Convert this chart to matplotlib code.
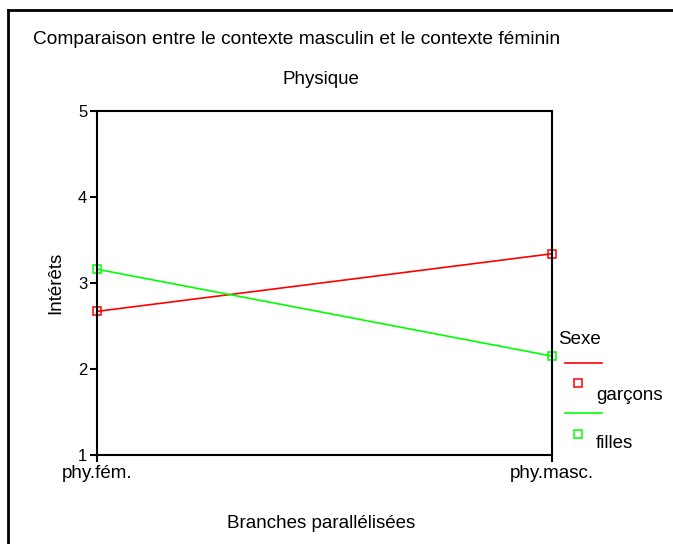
import matplotlib
matplotlib.use("Agg")
import matplotlib.pyplot as plt
from matplotlib.lines import Line2D

plt.rcParams['font.family'] = ['Liberation Sans', 'DejaVu Sans']

# données
categories = ["phy.fém.", "phy.masc."]
garcons = [2.67, 3.34]
filles = [3.16, 2.15]
series_names = ["garçons", "filles"]
series_colors = ["#ff0000", "#00ff00"]
yticks = [1, 2, 3, 4, 5]

fig = plt.figure(figsize=(6.73, 5.44), dpi=100)
W, H = 673, 544

def fx(px):
    return px / W

def fy(py):
    return 1 - py / H

ax = fig.add_axes([fx(97), fy(455), fx(552) - fx(97), fy(111) - fy(455)])

x = list(range(len(categories)))
for vals, col in zip([garcons, filles], series_colors):
    ax.plot(x, vals, color=col, lw=1.2, marker='s', markersize=6,
            markerfacecolor='none', markeredgecolor=col, markeredgewidth=1.1,
            clip_on=False)

ax.set_xlim(0, 1)
ax.set_ylim(1, 5)
ax.set_xticks(x)
ax.set_xticklabels(categories, fontsize=13.5)
ax.set_yticks(yticks)
ax.set_yticklabels([str(t) for t in yticks], fontsize=12)
for s in ax.spines.values():
    s.set_linewidth(1.5)
ax.tick_params(direction='out', length=5, width=1.5, pad=2)
ax.set_ylabel("Intérêts", fontsize=13.5, labelpad=10)

# cadre du graphique
fig.add_artist(Line2D([fx(8), 1], [fy(10), fy(10)], color='black', lw=2))
fig.add_artist(Line2D([fx(8), fx(8)], [fy(10), 0], color='black', lw=2))

fig.text(fx(33), fy(40), "Comparaison entre le contexte masculin et le contexte féminin",
         fontsize=13.8, ha='left', va='center')
fig.text(fx(321), fy(79), "Physique", fontsize=13.5, ha='center', va='center')
fig.text(fx(321), fy(524), "Branches parallélisées", fontsize=13.5, ha='center', va='center')

# légende
fig.text(fx(558), fy(340), "Sexe", fontsize=13.5, ha='left', va='center')
leg_y = [(363, 383, 395), (413, 434, 444)]
for (ly, my, ty), name, col in zip(leg_y, series_names, series_colors):
    fig.add_artist(Line2D([fx(565), fx(602)], [fy(ly), fy(ly)], color=col, lw=1.2))
    fig.add_artist(Line2D([fx(578)], [fy(my)], color=col, marker='s', markersize=6,
                          markerfacecolor='none', markeredgewidth=1.1, linestyle='none'))
    fig.text(fx(596), fy(ty), name, fontsize=13.5, ha='left', va='center')

fig.savefig("out.png", dpi=100)
